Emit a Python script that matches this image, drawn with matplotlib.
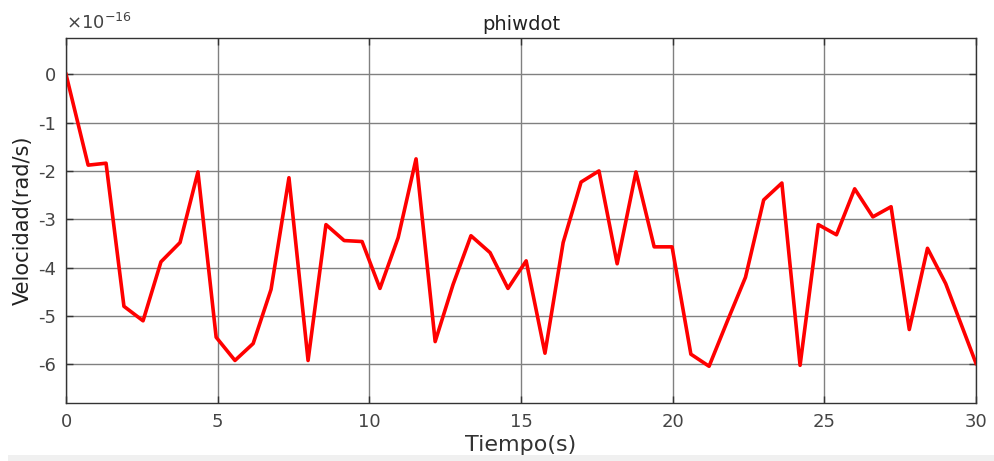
import matplotlib
matplotlib.use("Agg")
import matplotlib.pyplot as plt
from matplotlib.ticker import FuncFormatter
from matplotlib.patches import Rectangle

plt.rcParams['font.family'] = ['DejaVu Sans']
plt.rcParams['axes.unicode_minus'] = False

# tiempo (s) and phiwdot in units of 1e-16 rad/s
tiempo = [0, 0.73, 1.32, 1.91, 2.54, 3.13, 3.76, 4.35, 4.95, 5.57,
          6.17, 6.76, 7.35, 7.98, 8.57, 9.17, 9.76, 10.35, 10.95, 11.54,
          12.17, 12.76, 13.35, 13.98, 14.57, 15.17, 15.79, 16.39, 16.98, 17.57,
          18.17, 18.79, 19.39, 19.98, 20.6, 21.2, 21.8, 22.4, 23.0, 23.6,
          24.2, 24.8, 25.4, 26.0, 26.6, 27.2, 27.8, 28.4, 29.0, 30.0]
phiwdot = [0.0, -1.88, -1.84, -4.8, -5.1, -3.88, -3.48, -2.02, -5.44, -5.92,
           -5.57, -4.45, -2.14, -5.92, -3.11, -3.44, -3.46, -4.43, -3.38, -1.75,
           -5.53, -4.35, -3.34, -3.69, -4.43, -3.86, -5.77, -3.48, -2.23, -2.0,
           -3.92, -2.02, -3.57, -3.57, -5.79, -6.04, -5.11, -4.2, -2.6, -2.25,
           -6.02, -3.11, -3.32, -2.37, -2.95, -2.74, -5.28, -3.6, -4.33, -5.98]
escala = 1e-16

xticks = [0, 5, 10, 15, 20, 25, 30]
yticks = [0, -1, -2, -3, -4, -5, -6]

fig = plt.figure(figsize=(9.94, 4.61), dpi=100)
fig.patches.append(Rectangle((0.008, 0.0), 0.992, 0.013, transform=fig.transFigure,
                             facecolor='#f0f0f0', edgecolor='none'))
ax = fig.add_axes([0.0664, 0.1258, 0.9155, 0.7918])

ax.plot(tiempo, [v * escala for v in phiwdot], color='#ff0000', linewidth=2.6)

ax.set_xlim(0, 30)
ax.set_ylim(-6.8 * escala, 0.75 * escala)
ax.set_xticks(xticks)
ax.set_yticks([t * escala for t in yticks])
ax.yaxis.set_major_formatter(FuncFormatter(lambda v, p: '%g' % round(v / escala, 6)))
# MATLAB style exponent above the axis
ax.text(0.0, 1.015, r'$\times10^{-16}$', transform=ax.transAxes, fontsize=13,
        color='#444444', ha='left', va='bottom')

ax.grid(True, color='#808080', linewidth=1.0)
ax.set_axisbelow(True)
for s in ax.spines.values():
    s.set_color('#333333')
    s.set_linewidth(1.0)
ax.tick_params(direction='in', length=5, width=1, color='#333333',
               top=True, right=True, labelsize=13, labelcolor='#444444', pad=7)

ax.set_title('phiwdot', fontsize=14, color='#222222', pad=6)
ax.set_xlabel('Tiempo(s)', fontsize=16, color='#333333', labelpad=3)
ax.set_ylabel('Velocidad(rad/s)', fontsize=15, color='#222222', labelpad=4)

fig.savefig('out.png', dpi=100)
